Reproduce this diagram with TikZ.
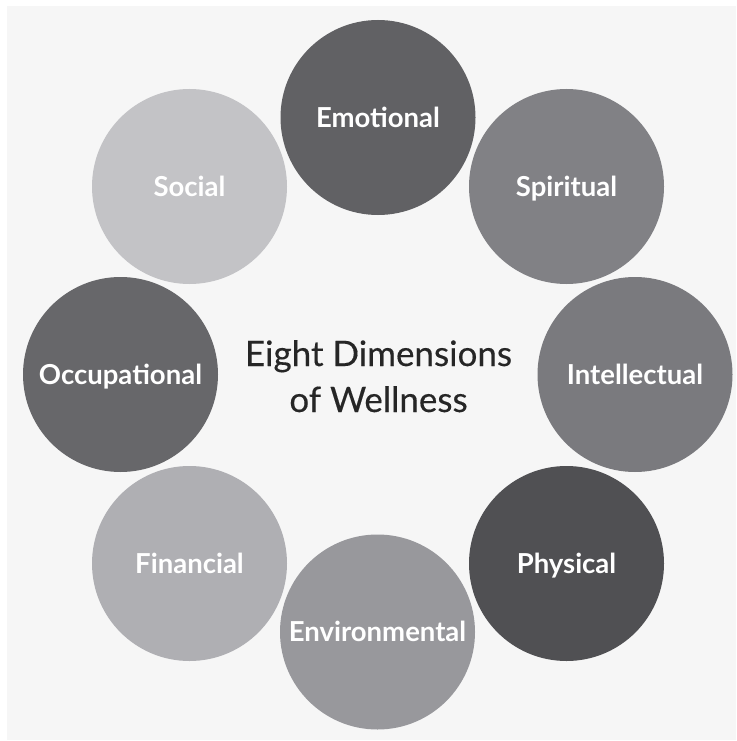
\documentclass[tikz,border=0pt]{standalone}
\usepackage{fontspec}
\setmainfont{Lato}
\definecolor{panel}{HTML}{F6F6F6}
\definecolor{cEmo}{HTML}{616164}
\definecolor{cSpi}{HTML}{818185}
\definecolor{cInt}{HTML}{7A7A7E}
\definecolor{cPhy}{HTML}{505053}
\definecolor{cEnv}{HTML}{98989C}
\definecolor{cFin}{HTML}{AFAFB3}
\definecolor{cSoc}{HTML}{C3C3C6}
\definecolor{cOcc}{HTML}{67676A}
\definecolor{titlec}{HTML}{262626}
\tikzset{
  dim/.style={circle, minimum size=195pt, inner sep=0pt, draw=none},
  dimlabel/.style={text=white, font=\fontsize{27.5}{32}\selectfont\bfseries, anchor=base, yshift=-9.8pt},
  titletext/.style={text=titlec, font=\fontsize{35}{46}\selectfont\addfontfeature{FakeBold=0.3}, anchor=base, inner sep=0pt}
}
\begin{document}
\begin{tikzpicture}[x=1pt,y=-1pt]
\useasboundingbox (0,0) rectangle (736,741);
\fill[white] (0,0) rectangle (736,741);
\fill[panel] (7,6) rectangle (736,740);
\node[dim, fill=cEmo] (emo) at (378,117.5) {};
\node[dim, fill=cSpi] (spi) at (566.5,186.5) {};
\node[dim, fill=cInt] (int) at (635,374.5) {};
\node[dim, fill=cPhy] (phy) at (566.5,563.5) {};
\node[dim, fill=cEnv] (env) at (377.5,632) {};
\node[dim, fill=cFin] (fin) at (189.5,563.5) {};
\node[dim, fill=cOcc] (occ) at (120.5,374.5) {};
\node[dim, fill=cSoc] (soc) at (189.5,186.5) {};
\node[dimlabel] (emoL) at (emo.center) {Emotional};
\node[dimlabel] (spiL) at (spi.center) {Spiritual};
\node[dimlabel] (intL) at (int.center) {Intellectual};
\node[dimlabel] (phyL) at (phy.center) {Physical};
\node[dimlabel] (envL) at (env.center) {Environmental};
\node[dimlabel] (finL) at (fin.center) {Financial};
\node[dimlabel] (occL) at (occ.center) {Occupational};
\node[dimlabel] (socL) at (soc.center) {Social};
\node[titletext] (title1) at (378.5,366) {Eight Dimensions};
\node[titletext] (title2) at (378.5,412) {of Wellness};
\end{tikzpicture}
\end{document}
